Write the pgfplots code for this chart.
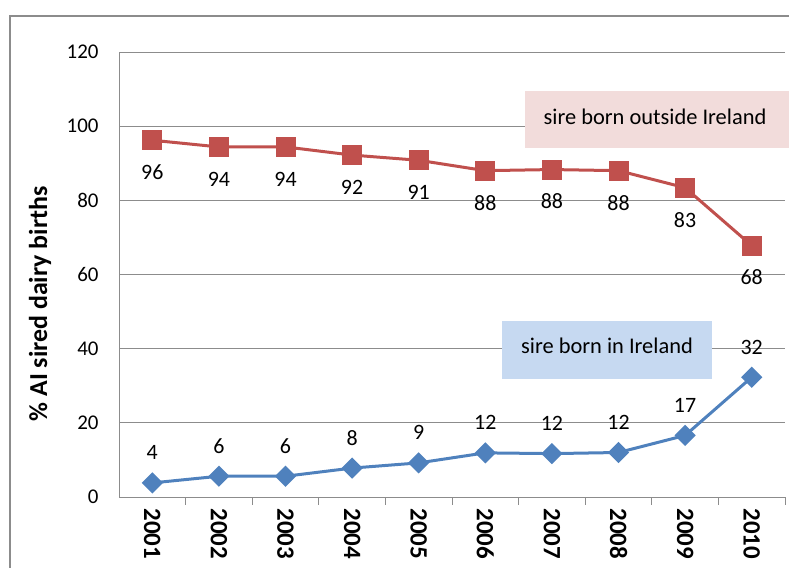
\documentclass[border=0pt]{standalone}
\usepackage{fontspec}
\setmainfont{Carlito}
\usepackage{pgfplots}
\pgfplotsset{compat=1.18}
\definecolor{sred}{HTML}{C0504D}
\definecolor{sblue}{HTML}{4F81BD}
\definecolor{spink}{HTML}{F2DCDB}
\definecolor{slblue}{HTML}{C6D9F1}
\definecolor{gridgray}{HTML}{8C8C8C}
\begin{document}
\begin{tikzpicture}
\useasboundingbox (0,0) rectangle (789bp,568bp);
\begin{axis}[
  at={(119bp,71bp)}, anchor=south west,
  scale only axis, width=666bp, height=445bp,
  xmin=0.5, xmax=10.5, ymin=0, ymax=120,
  axis x line*=bottom, axis y line*=left,
  axis line style={gridgray, line width=0.8bp, -},
  xtick={1,...,10},
  xticklabels={2001,2002,2003,2004,2005,2006,2007,2008,2009,2010},
  minor xtick={1.5,2.5,...,10.5},
  ytick={0,20,40,60,80,100,120},
  yticklabels={0,20,40,60,80,100,120},
  major tick length=0pt, minor tick length=8bp, tick align=outside,
  minor tick style={gridgray, line width=0.8bp},
  ymajorgrids, grid style={gridgray, line width=0.8bp},
  xticklabel style={rotate=-90, anchor=west, font=\fontsize{25}{29}\selectfont\bfseries},
  xticklabel shift=8bp,
  yticklabel style={font=\fontsize{21}{25}\selectfont, anchor=east},
  yticklabel shift=17bp,
  clip=false,
]
\addplot[sred, line width=3bp, mark=square*, mark size=8.5bp, mark options={solid},
  nodes near coords, point meta=explicit symbolic,
  every node near coord/.append style={font=\fontsize{22}{26}\selectfont, text=black, anchor=center, yshift=-32bp}]
coordinates {(1,96.2)[96] (2,94.4)[94] (3,94.4)[94] (4,92.2)[92] (5,90.8)[91] (6,88.0)[88] (7,88.3)[88] (8,88.0)[88] (9,83.4)[83] (10,67.8)[68]};
\addplot[sblue, line width=3bp, mark=square*, mark size=6bp, mark options={solid, rotate=45},
  nodes near coords, point meta=explicit symbolic,
  every node near coord/.append style={font=\fontsize{22}{26}\selectfont, text=black, anchor=center, yshift=30bp}]
coordinates {(1,3.8)[4] (2,5.6)[6] (3,5.6)[6] (4,7.8)[8] (5,9.2)[9] (6,11.9)[12] (7,11.7)[12] (8,12.0)[12] (9,16.6)[17] (10,32.3)[32]};
\end{axis}
\fill[spink] (525bp,420bp) rectangle (800bp,477bp);
\node[font=\fontsize{22.5}{26}\selectfont] at (655bp,451bp) {sire born outside Ireland};
\fill[slblue] (502bp,189bp) rectangle (712bp,247bp);
\node[font=\fontsize{22.5}{26}\selectfont] at (607bp,222bp) {sire born in Ireland};
\node[rotate=90, font=\fontsize{26}{30}\selectfont\bfseries] at (40bp,264bp) {\% AI sired dairy births};
\draw[gridgray, line width=1.5bp] (10bp,-5bp) -- (10bp,552bp) -- (800bp,552bp);
\end{tikzpicture}
\end{document}
